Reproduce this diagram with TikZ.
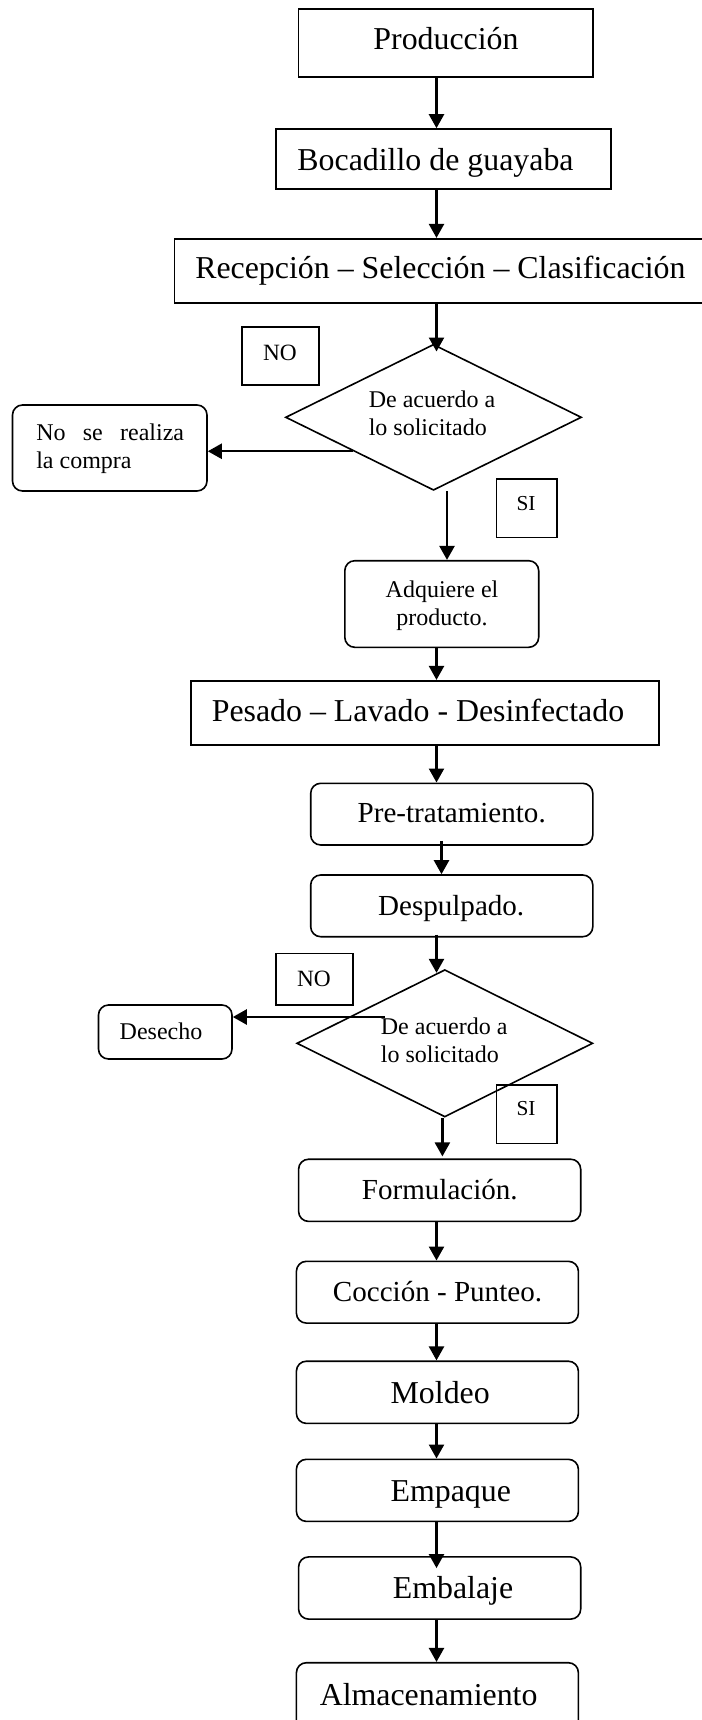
\documentclass[tikz,border=0pt]{standalone}
\usepackage{fontspec}
\setmainfont{Liberation Serif}
\usetikzlibrary{arrows.meta,shapes.geometric,fit,calc}

% text sizes used in the chart
\newcommand\bigtxt{\fontsize{23.9pt}{28pt}\selectfont}
\newcommand\midtxt{\fontsize{21.8pt}{26pt}\selectfont}
\newcommand\smalltxt{\fontsize{18pt}{21pt}\selectfont}
\newcommand\notxt{\fontsize{17.5pt}{21pt}\selectfont}
\newcommand\sitxt{\fontsize{16pt}{19pt}\selectfont}
% two stacked lines, baseline of the node = baseline of the first line
\newcommand\leftpair[2]{\vtop{\baselineskip=21pt\hbox{#1}\hbox{#2}}}
\newcommand\centerpair[2]{\vtop{\baselineskip=21pt\halign{\hfil##\hfil\cr #1\cr #2\cr}}}

\tikzset{
  box/.style={draw, line width=1.2pt, inner sep=0pt},
  rbox/.style={box, rounded corners=7.5pt},
  tag/.style={draw, line width=1.2pt, inner sep=0pt},
  decision/.style={draw, diamond, line width=1.2pt, inner sep=0pt},
  txt/.style={inner sep=0pt, anchor=base},
  ltxt/.style={inner sep=0pt, anchor=base west},
  arr/.style={line width=1.8pt, -{Triangle[width=11.25pt,length=10.5pt]}},
}

\begin{document}
\begin{tikzpicture}[x=0.75pt,y=-0.75pt]
\useasboundingbox (0,0) rectangle (702,1720);
\clip (0,0) rectangle (702,1720);

% vertical line shared by most connectors
\coordinate (spine) at (436.5,0);

% ---- upper part ----
\node[box, fit={(298.6,9) (593,77)}] (prod) {};
\node[txt] (prodT) at (446,50) {\bigtxt Producción};

\node[box, fit={(276.2,129) (611.1,189)}] (boc) {};
\node[txt] (bocT) at (435.5,170) {\bigtxt Bocadillo de guayaba};

\node[box, fit={(174.6,238.7) (722,302.7)}] (rec) {};
\node[txt] (recT) at (440.4,278.3) {\bigtxt Recepción – Selección – Clasificación};

% first decision
\node[decision, minimum width=222pt, minimum height=109.5pt] (d1) at (433.5,417.3) {};
\node[ltxt] (d1T) at (368.5,407.3) {\smalltxt\leftpair{De acuerdo a}{lo solicitado}};

\node[tag, fit={(242,326.7) (319,385)}] (no1) {};
\node[txt] (no1T) at (280,360) {\notxt NO};

\node[rbox, fit={(12.5,405) (207,491)}] (nsr) {};
\node[ltxt] (nsrT) at (36,440.7) {\smalltxt\leftpair{\hbox to 110.9pt{No\hfill se\hfill realiza}}{la compra}};

\node[tag, fit={(496.6,479) (557,537.3)}] (si1) {};
\node[txt] (si1T) at (526,510.7) {\sitxt SI};

\node[rbox, fit={(344.8,560.7) (538.7,647.3)}] (adq) {};
\node[txt] (adqT) at (442,597.3) {\smalltxt\centerpair{Adquiere el}{producto.}};

% ---- middle part ----
\node[box, fit={(190.8,680.7) (659,745)}] (pes) {};
\node[txt] (pesT) at (418,721.7) {\bigtxt Pesado – Lavado - Desinfectado};

\node[rbox, fit={(310.7,783.3) (592.8,845)}] (pre) {};
\node[txt] (preT) at (451.7,822.7) {\midtxt Pre-tratamiento.};

\node[rbox, fit={(310.7,875) (592.8,936.7)}] (desp) {};
\node[txt] (despT) at (451.2,915) {\midtxt Despulpado.};

% second decision
\node[decision, minimum width=222pt, minimum height=110.5pt] (d2) at (444.8,1043.3) {};
\node[ltxt] (d2T) at (380.6,1034) {\smalltxt\leftpair{De acuerdo a}{lo solicitado}};

\node[tag, fit={(276,953.3) (353,1005)}] (no2) {};
\node[txt] (no2T) at (314,986) {\notxt NO};

\node[rbox, fit={(98.5,1005) (232,1059)}] (des) {};
\node[txt] (desT) at (161,1039) {\smalltxt Desecho};

\node[tag, fit={(496.6,1085) (557,1143.3)}] (si2) {};
\node[txt] (si2T) at (526,1115.7) {\sitxt SI};

% ---- lower part ----
\node[rbox, fit={(298.6,1159.2) (580.7,1221.4)}] (form) {};
\node[txt] (formT) at (439.8,1199.2) {\midtxt Formulación.};

\node[rbox, fit={(296.4,1261.3) (578.4,1323.1)}] (coc) {};
\node[txt] (cocT) at (437.5,1301.7) {\midtxt Cocción - Punteo.};

\node[rbox, fit={(296.4,1361.2) (578.4,1423.4)}] (mol) {};
\node[txt] (molT) at (440.2,1403.4) {\bigtxt Moldeo};

\node[rbox, fit={(296.4,1459.3) (578.4,1521.4)}] (emp) {};
\node[txt] (empT) at (450.8,1501.4) {\bigtxt Empaque};

\node[rbox, fit={(298.6,1556.9) (580.7,1619.1)}] (emb) {};
\node[txt] (embT) at (453,1598.7) {\bigtxt Embalaje};

\node[rbox, fit={(296.4,1662.7) (578.4,1780)}] (alm) {};
\node[txt] (almT) at (428.6,1705) {\bigtxt Almacenamiento};

% ---- connectors ----
\draw[arr] (prod.south -| spine) -- (boc.north -| spine);
\draw[arr] (boc.south -| spine) -- (rec.north -| spine);
\draw[arr] (rec.south -| spine) -- ($(d1.north -| spine)+(0,8)$);

\coordinate (d1no) at ($(d1.west)!0.46!(d1.south)$);
\draw[arr] (d1no) -- (nsr.east |- d1no);

\coordinate (d1si) at ($(d1.south)+(13.5,0)$);
\draw[arr] (d1si) -- (adq.north -| d1si);

\draw[arr] (adq.south -| spine) -- (pes.north -| spine);
\draw[arr] (pes.south -| spine) -- (pre.north -| spine);

\coordinate (preout) at ($(pre.south)+(-10.25,-5)$);
\draw[arr] (preout) -- (desp.north -| preout);

\draw[arr] ($(desp.south -| spine)+(0,-3)$) -- ($(d2.north -| spine)+(0,4)$);

\coordinate (d2no) at ($(d2.center)+(-59.8,-26.3)$);
\draw[arr] (d2no) -- (des.east |- d2no);

\coordinate (d2si) at ($(d2.south)+(-2.4,0)$);
\draw[arr] (d2si) -- ($(form.north -| d2si)+(0,-2)$);

\draw[arr] (form.south -| spine) -- (coc.north -| spine);
\draw[arr] (coc.south -| spine) -- (mol.north -| spine);
\draw[arr] (mol.south -| spine) -- (emp.north -| spine);
\draw[arr] (emp.south -| spine) -- ($(emb.north -| spine)+(0,12)$);
\draw[arr] (emb.south -| spine) -- (alm.north -| spine);
\end{tikzpicture}
\end{document}
